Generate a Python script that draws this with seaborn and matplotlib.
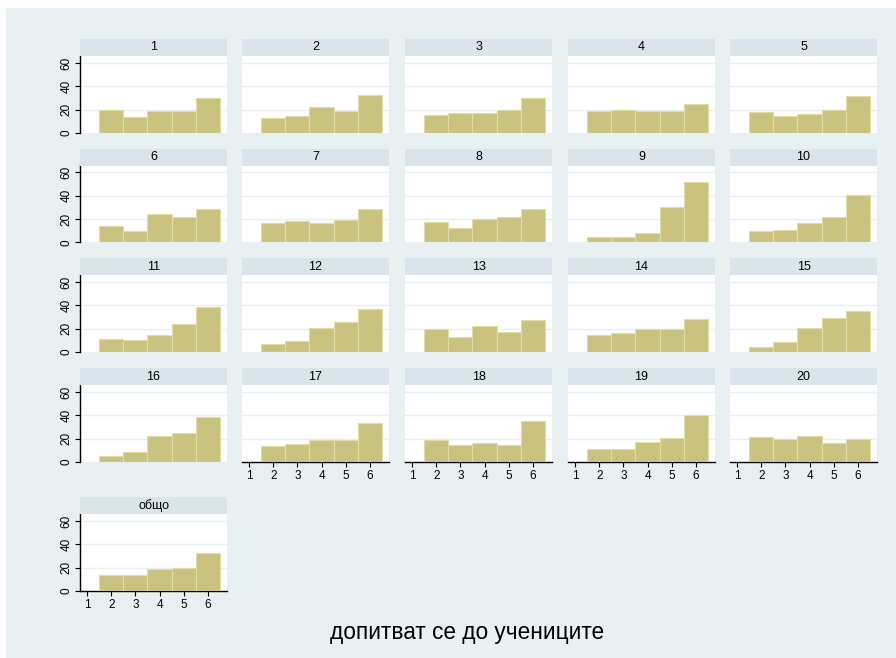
import matplotlib
matplotlib.use("Agg")
import matplotlib.pyplot as plt
import seaborn as sns
import pandas as pd
from matplotlib.patches import Rectangle

# ---- data (percent of answers per grade 2..6) ----
categories = [2, 3, 4, 5, 6]
x_ticks = [1, 2, 3, 4, 5, 6]
y_ticks = [0, 20, 40, 60]
panel_labels = [str(i) for i in range(1, 21)] + ["общо"]

p1 = [20, 13.5, 19, 18.5, 30]
p2 = [12.5, 14.5, 22, 18.5, 33]
p3 = [15.5, 17.5, 17.5, 20, 30]
p4 = [19, 19.5, 19, 18.5, 24.5]
p5 = [18, 14.5, 16.5, 20, 31.5]
p6 = [14.5, 10, 24, 21.5, 28.5]
p7 = [17, 18, 16.5, 19.5, 28.5]
p8 = [17.5, 12, 20.5, 21.5, 28.5]
p9 = [5, 4.5, 8.5, 30, 52]
p10 = [10, 11, 16.5, 21.5, 40.5]
p11 = [11.5, 10, 15, 24, 38.5]
p12 = [6.5, 9.5, 21, 25.5, 36.5]
p13 = [19.5, 13, 22.5, 17.5, 27.5]
p14 = [14.5, 16.5, 20, 19.5, 28.5]
p15 = [4.5, 8.5, 21, 29, 35.5]
p16 = [5.5, 9, 22, 24.5, 39]
p17 = [13.5, 15.5, 18.5, 18.5, 33.5]
p18 = [19, 14.5, 16, 14.5, 35.5]
p19 = [11, 11, 17, 21, 40]
p20 = [21.5, 20, 22, 16, 20]
total = [14, 13.5, 18.5, 20, 32.5]

xlabel = "допитват се до учениците"

all_values = [p1, p2, p3, p4, p5, p6, p7, p8, p9, p10,
              p11, p12, p13, p14, p15, p16, p17, p18, p19, p20, total]

rows = []
for lab, vals in zip(panel_labels, all_values):
    for c, v in zip(categories, vals):
        rows.append({"panel": lab, "grade": c, "pct": v})
df = pd.DataFrame(rows)

# ---- styling ----
sns.set_theme(style="white")
plt.rcParams["font.family"] = ["Liberation Sans", "DejaVu Sans"]

BG = "#E8F0F2"
STRIP = "#D9E5EB"
BAR = "#CAC27F"
BAR_EDGE = "#E2DCA6"
GRID = "#E8F0F2"

W, H = 896, 658
fig = plt.figure(figsize=(W / 100, H / 100), dpi=100)
fig.patch.set_facecolor("white")
fig.patches.append(Rectangle((6 / W, 0), 1, 1 - 8 / H, transform=fig.transFigure,
                             facecolor=BG, edgecolor="none", zorder=-10))

col_left = [80, 242, 405, 568, 730]
col_w = 147
row_bottom = [133, 242.5, 352, 462, 591]
plot_h = 77
strip_h = 17

def fx(px):
    return px / W

def fy(py):
    return 1 - py / H

for i, lab in enumerate(panel_labels):
    r, c = divmod(i, 5)
    left = col_left[c]
    bottom = row_bottom[r]
    ax = fig.add_axes([fx(left), fy(bottom), col_w / W, plot_h / H])
    ax.set_facecolor("white")
    sub = df[df["panel"] == lab]
    sns.histplot(data=sub, x="grade", weights="pct", discrete=True, ax=ax,
                 color=BAR, edgecolor=BAR_EDGE, linewidth=0.8, alpha=1, zorder=3)
    ax.set_xlim(0.7, 6.8)
    ax.set_ylim(0, 66)
    for yv in y_ticks[1:]:
        ax.axhline(yv, color=GRID, lw=1.0, zorder=1)
    for s in ax.spines.values():
        s.set_visible(False)
    ax.set_xlabel("")
    ax.set_ylabel("")

    # y axis only on first column
    if c == 0:
        ax.spines["left"].set_visible(True)
        ax.spines["left"].set_color("black")
        ax.spines["left"].set_linewidth(1.0)
        ax.set_yticks(y_ticks)
        ax.set_yticklabels([str(t) for t in y_ticks], rotation=90, va="center", fontsize=8.5)
        ax.tick_params(axis="y", left=True, direction="out", length=3.5, width=0.8,
                       pad=2, colors="black")
    else:
        ax.set_yticks(y_ticks)
        ax.tick_params(axis="y", left=False, labelleft=False)

    # x axis on bottom-most panel in each column
    bottom_panel = (r == 3 and c >= 1) or (r == 4)
    if bottom_panel:
        ax.spines["bottom"].set_visible(True)
        ax.spines["bottom"].set_color("black")
        ax.spines["bottom"].set_linewidth(1.0)
        ax.set_xticks(x_ticks)
        ax.set_xticklabels([str(t) for t in x_ticks], fontsize=8.5)
        ax.tick_params(axis="x", bottom=True, direction="out", length=3.5, width=0.8,
                       pad=2, colors="black")
    else:
        ax.set_xticks(x_ticks)
        ax.tick_params(axis="x", bottom=False, labelbottom=False)
    ax.grid(False)

    # strip
    sax = fig.add_axes([fx(left), fy(bottom - plot_h), col_w / W, strip_h / H])
    sax.set_facecolor(STRIP)
    for s in sax.spines.values():
        s.set_visible(False)
    sax.set_xticks([])
    sax.set_yticks([])
    sax.text(0.5, 0.5, lab, ha="center", va="center", fontsize=9, color="black",
             transform=sax.transAxes)

fig.text(fx(467), fy(633), xlabel, ha="center", va="center", fontsize=16.3, color="black")

fig.savefig("out.png", dpi=100, facecolor=fig.get_facecolor())
